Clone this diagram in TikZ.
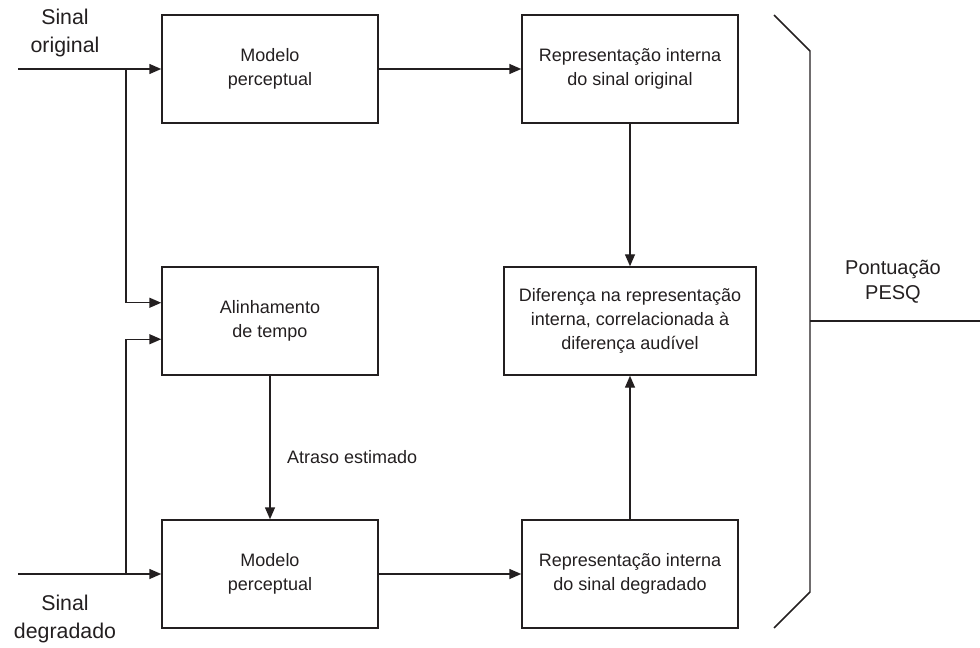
\documentclass[tikz,border=0pt]{standalone}
\usepackage{fontspec}
\setmainfont{Liberation Sans}
\usetikzlibrary{arrows.meta,calc}

\definecolor{ink}{RGB}{35,31,32}

\begin{document}
\begin{tikzpicture}[x=0.75pt,y=-0.75pt,line width=1.1pt,draw=ink,text=ink,
	block/.style={draw,line width=1.1pt,minimum width=162pt,minimum height=81pt,inner sep=0,align=center,font=\fontsize{13.5}{18}\selectfont},
	wideblock/.style={block,minimum width=189pt},
	sig/.style={align=center,font=\fontsize{16}{20.5}\selectfont},
	arr/.style={-{Triangle[length=9pt,width=7.5pt]}}]
	\useasboundingbox (0,0) rectangle (980,648);
	\node[block] (mp1) at (270,69) {Modelo\\perceptual};
	\node[block] (ri1) at (630,69) {Representação interna\\do sinal original};
	\node[block] (al) at (270,321) {Alinhamento\\de tempo};
	\node[wideblock] (df) at (630,321) {Diferença na representação\\interna, correlacionada à\\diferença audível};
	\node[block] (mp2) at (270,574) {Modelo\\perceptual};
	\node[block] (ri2) at (630,574) {Representação interna\\do sinal degradado};
	\node[sig] (so) at (65,33) {Sinal\\original};
	\node[sig] (sd) at (65,619) {Sinal\\degradado};
	\node[sig,font=\fontsize{15}{18.5}\selectfont] (pq) at (893,282) {Pontuação\\PESQ};
	\coordinate (in1) at (18,69);
	\coordinate (in2) at (18,574);
	\coordinate (br1) at (126,69);
	\coordinate (br2) at (126,574);
	\coordinate (bt) at (810,321);
	\coordinate (out) at (980,321);
	\draw[arr] (in1) -- (mp1);
	\draw[arr] (in2) -- (mp2);
	\draw[arr] (br1) |- ($(al.north west)!1/3!(al.south west)$);
	\draw[arr] (br2) |- ($(al.north west)!2/3!(al.south west)$);
	\draw[arr] (mp1) -- (ri1);
	\draw[arr] (mp2) -- (ri2);
	\draw[arr] (al) -- node[pos=0.57,right=9pt,font=\fontsize{13.5}{18}\selectfont] (ae) {Atraso estimado} (mp2);
	\draw[arr] (ri1) -- (df);
	\draw[arr] (ri2) -- (df);
	\draw (774,15) -- (810,51) -- (810,592) -- (774,628);
	\draw (bt) -- (out);
\end{tikzpicture}
\end{document}
